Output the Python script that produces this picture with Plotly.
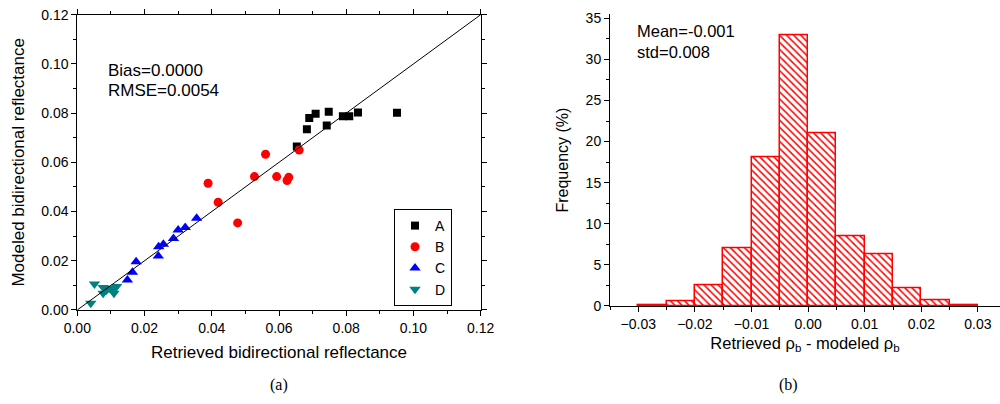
import plotly.graph_objects as go

# ---------------- data: panel (a) ----------------
a_x = [0.0653, 0.0683, 0.0690, 0.0709, 0.0748, 0.0742, 0.0790, 0.0809, 0.0835, 0.0951]
a_y = [0.0664, 0.0735, 0.0780, 0.0798, 0.0806, 0.0750, 0.0787, 0.0787, 0.0803, 0.0802]

b_x = [0.0389, 0.0419, 0.0477, 0.0527, 0.0560, 0.0593, 0.0624, 0.0629, 0.0660]
b_y = [0.0515, 0.0438, 0.0354, 0.0542, 0.0633, 0.0542, 0.0526, 0.0539, 0.0650]

c_x = [0.0149, 0.0164, 0.0175, 0.0241, 0.0242, 0.0256, 0.0286, 0.0300, 0.0321, 0.0355]
c_y = [0.0122, 0.0153, 0.0196, 0.0219, 0.0257, 0.0267, 0.0291, 0.0325, 0.0335, 0.0373]

d_x = [0.0040, 0.0051, 0.0077, 0.0077, 0.0087, 0.0107, 0.0109, 0.0117, 0.0095]
d_y = [0.0027, 0.0106, 0.0091, 0.0068, 0.0081, 0.0084, 0.0068, 0.0095, 0.0088]

one_to_one = [0.0, 0.12]

# ---------------- data: panel (b) ----------------
bin_centers = [-0.0275, -0.0225, -0.0175, -0.0125, -0.0075, -0.0025,
               0.0025, 0.0075, 0.0125, 0.0175, 0.0225, 0.0275]
freq_pct = [0.15, 0.57, 2.5, 7.0, 18.1, 33.0, 21.0, 8.55, 6.3, 2.2, 0.65, 0.15]
bin_width = 0.005

FONT = "Liberation Sans, Arial, Helvetica, sans-serif"

fig = go.Figure()

series = [
    ("A", a_x, a_y, "square", "black", 8),
    ("B", b_x, b_y, "circle", "#ff0000", 9),
    ("C", c_x, c_y, "triangle-up", "#0000ff", 10),
    ("D", d_x, d_y, "triangle-down", "#008080", 10),
]
for name, xs, ys, sym, col, sz in series:
    fig.add_trace(go.Scatter(
        x=xs, y=ys, mode="markers", name=name,
        marker=dict(symbol=sym, color=col, size=sz, line=dict(width=0)),
        xaxis="x", yaxis="y"))

fig.add_trace(go.Scatter(
    x=one_to_one, y=one_to_one, mode="lines", showlegend=False,
    line=dict(color="black", width=1), xaxis="x", yaxis="y"))

fig.add_trace(go.Bar(
    x=bin_centers, y=freq_pct, width=bin_width, showlegend=False,
    marker=dict(color="white",
                line=dict(color="#ff0000", width=1.5),
                pattern=dict(shape="\\", fgcolor="#ff0000", bgcolor="white",
                             size=5, solidity=0.3)),
    xaxis="x2", yaxis="y2"))

axis_common = dict(
    showline=True, linecolor="black", linewidth=1,
    ticks="outside", ticklen=5, tickcolor="black", tickwidth=1,
    showgrid=False, zeroline=False, automargin=False,
    tickfont=dict(family=FONT, size=14, color="black"),
)

fig.update_layout(
    template="none",
    width=1000, height=404,
    margin=dict(l=0, r=0, t=0, b=0, autoexpand=False),
    paper_bgcolor="white", plot_bgcolor="white",
    font=dict(family=FONT, color="black"),
    bargap=0,
    xaxis=dict(
        **axis_common, domain=[0.0773, 0.4807], range=[0, 0.12],
        tickmode="linear", tick0=0, dtick=0.02, tickformat=".2f",
        mirror="allticks",
        minor=dict(dtick=0.01, ticks="outside", ticklen=3, tickcolor="black"),
        title=dict(text="Retrieved bidirectional reflectance",
                   font=dict(family=FONT, size=17), standoff=11),
        anchor="y"),
    yaxis=dict(
        **axis_common, domain=[0.2327, 0.9636], range=[0, 0.12],
        tickmode="linear", tick0=0, dtick=0.02, tickformat=".2f",
        mirror="allticks",
        minor=dict(dtick=0.01, ticks="outside", ticklen=3, tickcolor="black"),
        title=dict(text="Modeled bidirectional reflectance",
                   font=dict(family=FONT, size=17), standoff=12),
        anchor="x"),
    xaxis2=dict(
        **axis_common, domain=[0.610, 1.0], range=[-0.035, 0.0339],
        tickmode="linear", tick0=0, dtick=0.01, tickformat=".2f",
        minor=dict(dtick=0.005, ticks="outside", ticklen=3, tickcolor="black"),
        title=dict(text="Retrieved ρ<sub>b</sub> - modeled ρ<sub>b</sub>",
                   font=dict(family=FONT, size=16.5), standoff=6),
        anchor="y2"),
    yaxis2=dict(
        **axis_common, domain=[0.2426, 0.9649], range=[0, 35.5],
        tickmode="linear", tick0=0, dtick=5,
        minor=dict(dtick=2.5, ticks="outside", ticklen=3, tickcolor="black"),
        title=dict(text="Frequency (%)",
                   font=dict(family=FONT, size=16), standoff=13),
        anchor="x2"),
    legend=dict(
        x=0.394, y=0.4827, xanchor="left", yanchor="top",
        bordercolor="black", borderwidth=1, bgcolor="white",
        font=dict(family=FONT, size=14), tracegroupgap=0,
        itemwidth=30),
)

ann = [
    dict(text="Bias=0.0000", x=0.106, y=0.8267, size=17),
    dict(text="RMSE=0.0054", x=0.106, y=0.7748, size=17),
    dict(text="Mean=-0.001", x=0.635, y=0.9233, size=16.5),
    dict(text="std=0.008", x=0.635, y=0.8713, size=16.5),
]
for a in ann:
    fig.add_annotation(text=a["text"], x=a["x"], y=a["y"], xref="paper", yref="paper",
                       xanchor="left", yanchor="middle", showarrow=False,
                       font=dict(family=FONT, size=a["size"], color="black"))

for lbl, xp in [("(a)", 0.279), ("(b)", 0.788)]:
    fig.add_annotation(text=lbl, x=xp, y=0.047, xref="paper", yref="paper",
                       xanchor="center", yanchor="middle", showarrow=False,
                       font=dict(family="Liberation Serif, Times New Roman, serif",
                                 size=16, color="black"))

fig.write_html("out.html",
               config={"displayModeBar": False},
               post_script="document.body.style.margin='0';document.body.style.overflow='hidden';")
